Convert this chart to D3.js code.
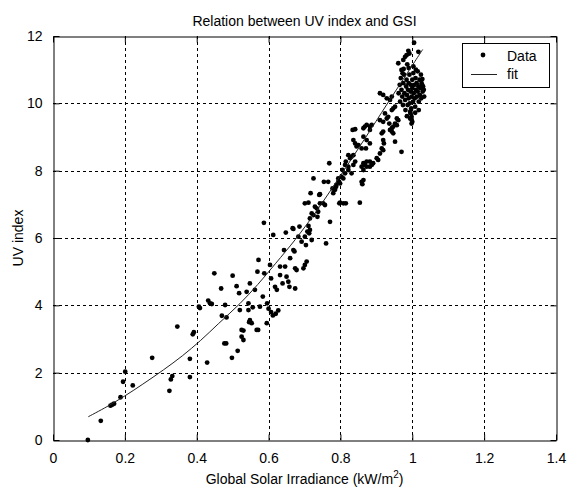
<!DOCTYPE html>
<html>
<head>
<meta charset="utf-8">
<script src="https://cdn.jsdelivr.net/npm/d3@7"></script>
<style>
  body { margin: 0; background: #fff; }
  svg text { font-family: 'Liberation Sans', Arial, sans-serif; font-size: 14px; fill: #000; }
</style>
</head>
<body>
<svg id="chart" width="567" height="488"></svg>
<script>
// measured points: global solar irradiance (kW/m2) and UV index
const gsi = [
  0.097, 0.133, 0.160, 0.165, 0.170, 0.188, 0.195, 0.201, 0.222, 0.276,
  0.324, 0.328, 0.332, 0.346, 0.381, 0.381, 0.389, 0.392, 0.406, 0.409,
  0.429, 0.432, 0.437, 0.442, 0.449, 0.468, 0.470, 0.477, 0.482, 0.479,
  0.483, 0.498, 0.500, 0.511, 0.514, 0.518, 0.520, 0.525, 0.525, 0.530,
  0.530, 0.539, 0.544, 0.544, 0.546, 0.548, 0.548, 0.553, 0.556, 0.562,
  0.567, 0.571, 0.569, 0.572, 0.576, 0.584, 0.587, 0.588, 0.595, 0.596,
  0.600, 0.604, 0.607, 0.607, 0.613, 0.612, 0.618, 0.620, 0.623, 0.627,
  0.632, 0.632, 0.639, 0.643, 0.646, 0.648, 0.650, 0.655, 0.658, 0.660,
  0.667, 0.669, 0.672, 0.669, 0.674, 0.674, 0.678, 0.683, 0.686, 0.692,
  0.697, 0.701, 0.701, 0.701, 0.704, 0.706, 0.708, 0.711, 0.711, 0.713,
  0.715, 0.715, 0.717, 0.720, 0.720, 0.725, 0.725, 0.729, 0.734, 0.736,
  0.738, 0.741, 0.743, 0.743, 0.752, 0.754, 0.757, 0.760, 0.766, 0.769,
  0.771, 0.778, 0.780, 0.785, 0.788, 0.788, 0.794, 0.794, 0.797, 0.799,
  0.799, 0.803, 0.806, 0.808, 0.808, 0.813, 0.813, 0.815, 0.815, 0.822,
  0.822, 0.822, 0.827, 0.831, 0.831, 0.834, 0.836, 0.836, 0.836, 0.841,
  0.841, 0.841, 0.845, 0.850, 0.854, 0.859, 0.861, 0.859, 0.859, 0.864,
  0.864, 0.864, 0.864, 0.864, 0.868, 0.868, 0.871, 0.873, 0.873, 0.873,
  0.873, 0.882, 0.882, 0.882, 0.882, 0.882, 0.887, 0.887, 0.891, 0.901,
  0.905, 0.910, 0.910, 0.910, 0.915, 0.915, 0.919, 0.919, 0.919, 0.919,
  0.919, 0.921, 0.924, 0.929, 0.929, 0.933, 0.936, 0.938, 0.938, 0.943,
  0.943, 0.943, 0.943, 0.947, 0.947, 0.947, 0.952, 0.952, 0.952, 0.957,
  0.957, 0.961, 0.961, 0.970, 0.970, 0.973, 0.975, 0.980, 0.984, 0.986,
  0.989, 0.992, 0.994, 0.994, 0.998, 0.998, 0.998, 1.000, 1.005, 1.017,
  1.026, 1.029, 0.962, 0.965, 0.966, 0.968, 0.970, 0.972, 0.974, 0.975,
  0.977, 0.978, 0.980, 0.981, 0.983, 0.984, 0.985, 0.987, 0.988, 0.990,
  0.990, 0.992, 0.993, 0.995, 0.996, 0.997, 0.998, 1.000, 1.000, 1.002,
  1.003, 1.004, 1.006, 1.007, 1.008, 1.009, 1.010, 1.012, 1.013, 1.015,
  1.015, 1.017, 1.018, 1.020, 1.021, 1.022, 1.024, 1.025, 1.027, 1.030,
  1.032, 1.033, 1.018, 1.008, 0.995, 0.985, 1.028, 0.976, 0.990, 1.003,
  1.010
];
const uvIndex = [
  0.00, 0.57, 1.02, 1.05, 1.08, 1.27, 1.73, 2.03, 1.62, 2.44,
  1.46, 1.80, 1.90, 3.37, 2.41, 1.87, 3.14, 3.20, 3.96, 3.92,
  2.30, 4.14, 4.06, 4.04, 4.95, 4.50, 3.69, 2.87, 2.87, 4.01,
  3.64, 2.44, 4.88, 4.57, 2.65, 4.36, 3.86, 3.27, 3.07, 2.97,
  3.25, 4.40, 4.06, 3.86, 3.50, 4.65, 3.56, 3.47, 3.94, 4.46,
  3.27, 3.27, 5.00, 5.35, 3.96, 4.26, 6.45, 4.95, 3.47, 4.06,
  3.90, 5.20, 3.80, 4.80, 6.09, 3.70, 4.55, 3.75, 4.46, 3.85,
  4.90, 5.15, 4.65, 5.64, 5.15, 6.16, 4.85, 4.70, 4.55, 5.40,
  6.29, 5.64, 5.60, 6.27, 5.10, 4.50, 5.05, 6.04, 6.34, 5.89,
  5.10, 5.20, 6.04, 7.03, 5.79, 5.30, 6.19, 7.05, 6.36, 6.14,
  6.24, 6.58, 7.33, 5.94, 6.73, 6.68, 7.77, 6.93, 6.88, 6.63,
  6.78, 7.28, 7.03, 7.30, 7.03, 7.67, 6.98, 5.84, 7.67, 8.22,
  6.48, 7.47, 7.33, 7.43, 7.52, 7.57, 7.67, 7.77, 7.03, 7.62,
  7.05, 7.82, 8.02, 7.77, 7.03, 7.92, 8.17, 8.27, 7.03, 8.46,
  8.02, 8.12, 8.37, 7.92, 8.42, 9.21, 8.17, 8.46, 8.91, 9.23,
  8.27, 8.81, 8.72, 8.76, 7.05, 7.67, 7.60, 8.12, 8.66, 8.22,
  9.26, 9.01, 8.02, 7.72, 8.17, 9.31, 8.66, 8.27, 9.36, 8.91,
  8.12, 8.12, 8.27, 9.31, 9.21, 8.81, 8.17, 9.36, 8.22, 8.37,
  8.32, 8.51, 9.50, 10.30, 8.66, 9.11, 8.61, 9.16, 8.91, 9.45,
  10.25, 8.81, 9.70, 9.55, 10.15, 9.60, 9.40, 9.21, 10.10, 9.16,
  9.26, 9.80, 10.20, 9.11, 9.31, 9.85, 8.86, 9.40, 9.90, 9.35,
  9.55, 9.50, 11.19, 8.56, 10.99, 10.89, 11.29, 11.38, 11.43, 11.16,
  11.56, 11.48, 9.55, 9.75, 9.40, 9.52, 9.60, 9.45, 11.80, 11.53,
  10.60, 10.35, 10.30, 10.55, 10.05, 10.75, 10.40, 10.20, 9.95, 10.60,
  10.85, 10.30, 10.10, 9.80, 10.50, 10.70, 10.25, 9.95, 10.40, 10.60,
  10.15, 10.85, 10.00, 10.35, 10.55, 9.85, 10.20, 10.70, 10.45, 10.05,
  10.90, 10.30, 10.55, 10.15, 9.90, 10.75, 10.40, 10.60, 10.20, 10.95,
  10.35, 10.50, 10.05, 10.70, 10.25, 10.45, 10.85, 10.15, 10.55, 10.50,
  10.40, 10.20, 9.80, 9.72, 9.70, 9.62, 10.72, 11.02, 11.05, 11.10,
  11.00
];

// fitted curve
const fitX = [0.098, 0.15, 0.2, 0.25, 0.307, 0.36, 0.41, 0.46, 0.52, 0.57, 0.62, 0.674, 0.74, 0.803, 0.866, 0.93, 0.98, 1.029];
const fitY = [0.69, 0.99, 1.31, 1.66, 2.08, 2.5, 2.95, 3.45, 4.05, 4.62, 5.25, 5.95, 6.9, 7.9, 8.92, 9.98, 10.8, 11.6];

const xTicks = [0, 0.2, 0.4, 0.6, 0.8, 1, 1.2, 1.4];
const yTicks = [0, 2, 4, 6, 8, 10, 12];

const plot = { left: 53, right: 556, top: 36, bottom: 440 };

var x = d3.scaleLinear().domain([0, 1.4]).range([plot.left, plot.right]);
var y = d3.scaleLinear().domain([0, 12]).range([plot.bottom, plot.top]);

var svg = d3.select('svg#chart');

svg
  .append('rect')
  .attr('width', 567)
  .attr('height', 488)
  .attr('fill', '#fff');

// dotted grid
var grid = svg.append('g').attr('class', 'grid');
grid
  .selectAll('line.vx')
  .data(xTicks.slice(1, -1))
  .enter()
  .append('line')
  .attr('x1', d => Math.round(x(d)) + 0.5)
  .attr('x2', d => Math.round(x(d)) + 0.5)
  .attr('y1', plot.top)
  .attr('y2', plot.bottom)
  .style('stroke', '#000')
  .style('stroke-dasharray', '3,3');
grid
  .selectAll('line.hy')
  .data(yTicks.slice(1, -1))
  .enter()
  .append('line')
  .attr('y1', d => Math.round(y(d)) + 0.5)
  .attr('y2', d => Math.round(y(d)) + 0.5)
  .attr('x1', plot.left)
  .attr('x2', plot.right)
  .style('stroke', '#000')
  .style('stroke-dasharray', '3,3');

// axes with inward ticks on all four sides
var fmt = d => String(d);
svg
  .append('g')
  .attr('transform', `translate(0,${plot.bottom + 0.5})`)
  .call(d3.axisBottom(x).tickValues(xTicks).tickFormat(fmt).tickSizeInner(-6).tickSizeOuter(0).tickPadding(13));
svg
  .append('g')
  .attr('transform', `translate(0,${plot.top + 0.5})`)
  .call(d3.axisTop(x).tickValues(xTicks).tickFormat('').tickSizeInner(-6).tickSizeOuter(0));
svg
  .append('g')
  .attr('transform', `translate(${plot.left + 0.5},0)`)
  .call(d3.axisLeft(y).tickValues(yTicks).tickFormat(fmt).tickSizeInner(-6).tickSizeOuter(0).tickPadding(11));
svg
  .append('g')
  .attr('transform', `translate(${plot.right + 0.5},0)`)
  .call(d3.axisRight(y).tickValues(yTicks).tickFormat('').tickSizeInner(-6).tickSizeOuter(0));

svg.selectAll('.tick line').style('stroke', '#000');
svg.selectAll('.domain').style('stroke', '#000');
svg.selectAll('.tick text').style('font-size', '14px').style('font-family', "'Liberation Sans', Arial, sans-serif");

// data points
var points = gsi.map((g, i) => ({ g: g, uv: uvIndex[i] }));
svg
  .append('g')
  .attr('class', 'points')
  .selectAll('circle')
  .data(points)
  .enter()
  .append('circle')
  .attr('cx', d => x(d.g))
  .attr('cy', d => y(d.uv))
  .attr('r', 2.4)
  .style('fill', '#000');

// fit curve
var fitLine = d3
  .line()
  .x(d => x(d[0]))
  .y(d => y(d[1]))
  .curve(d3.curveCatmullRom);
svg
  .append('path')
  .datum(fitX.map((v, i) => [v, fitY[i]]))
  .attr('d', fitLine)
  .style('fill', 'none')
  .style('stroke', '#222')
  .style('stroke-width', 1);

// titles
svg
  .append('text')
  .attr('x', (plot.left + plot.right) / 2)
  .attr('y', 26)
  .attr('text-anchor', 'middle')
  .text('Relation between UV index and GSI');
var xl = svg
  .append('text')
  .attr('x', (plot.left + plot.right) / 2)
  .attr('y', 484)
  .attr('text-anchor', 'middle');
xl.append('tspan').text('Global Solar Irradiance (kW/m');
xl.append('tspan').attr('dy', -6).style('font-size', '10px').text('2');
xl.append('tspan').attr('dy', 6).text(')');
svg
  .append('text')
  .attr('transform', `translate(23,${(plot.top + plot.bottom) / 2}) rotate(-90)`)
  .attr('text-anchor', 'middle')
  .text('UV index');

// legend
var legend = svg.append('g').attr('class', 'legend');
legend
  .append('rect')
  .attr('x', 462.5)
  .attr('y', 43.5)
  .attr('width', 87)
  .attr('height', 44)
  .style('fill', '#fff')
  .style('stroke', '#000');
legend
  .append('circle')
  .attr('cx', 483)
  .attr('cy', 55)
  .attr('r', 2.4)
  .style('fill', '#000');
legend
  .append('text')
  .attr('x', 507)
  .attr('y', 61)
  .text('Data');
legend
  .append('line')
  .attr('x1', 471)
  .attr('x2', 497)
  .attr('y1', 74.5)
  .attr('y2', 74.5)
  .style('stroke', '#222');
legend
  .append('text')
  .attr('x', 507)
  .attr('y', 79)
  .text('fit');
</script>
</body>
</html>
